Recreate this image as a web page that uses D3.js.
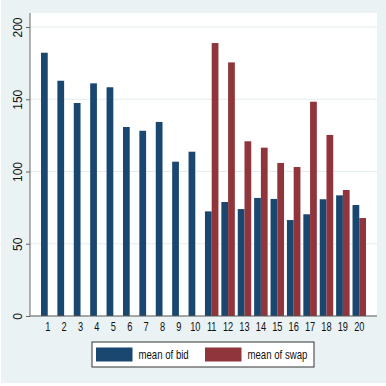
<!DOCTYPE html>
<html>
<head>
<meta charset="utf-8">
<script src="https://cdn.jsdelivr.net/npm/d3@7"></script>
<style>
  html, body { margin: 0; padding: 0; background: #ffffff; }
  svg { display: block; }
  text { font-family: "Liberation Sans", Arial, sans-serif; fill: #111; }
</style>
</head>
<body>
<svg id="chart" width="386" height="386"></svg>
<script>
// Group labels along the x axis
const categories = ["1","2","3","4","5","6","7","8","9","10",
                    "11","12","13","14","15","16","17","18","19","20"];
// Mean of bid per group
const bidValues = [182.2, 162.8, 147.4, 161.0, 158.3, 130.8, 128.2, 134.3, 106.8, 113.7,
                   72.4, 78.9, 74.0, 81.7, 81.0, 66.4, 70.4, 80.8, 83.5, 76.8];
// Mean of swap per group (no swap observations in groups 1-10)
const swapValues = [0, 0, 0, 0, 0, 0, 0, 0, 0, 0,
                    188.9, 175.5, 120.9, 116.5, 105.9, 103.1, 148.3, 125.3, 87.2, 67.8];
const seriesKeys = ["bid", "swap"];
const seriesLabels = ["mean of bid", "mean of swap"];
const yTicks = [0, 50, 100, 150, 200];

const colors = { bid: "#1a476f", swap: "#90353b" };
const bg = "#eaf2f3";
const condense = 0.74;

const svg = d3.select("#chart");

// graph region
svg.append("rect").attr("x", 1).attr("y", 0).attr("width", 385).attr("height", 383).attr("fill", bg);

const plot = { left: 30, right: 377, top: 13, bottom: 316 };

// plot region
svg.append("rect")
  .attr("x", plot.left).attr("y", plot.top)
  .attr("width", plot.right - plot.left).attr("height", plot.bottom - plot.top)
  .attr("fill", "#ffffff");

const x0 = d3.scaleBand().domain(categories).range([plot.left, plot.right])
  .paddingInner(0.177).paddingOuter(0.67);
const x1 = d3.scaleBand().domain(seriesKeys).range([0, x0.bandwidth()]);
const y = d3.scaleLinear().domain([0, 200]).range([plot.bottom, 27]);

// horizontal grid lines
svg.append("g").selectAll("line")
  .data(yTicks.filter(d => d > 0))
  .join("line")
  .attr("x1", plot.left).attr("x2", plot.right)
  .attr("y1", d => y(d)).attr("y2", d => y(d))
  .attr("stroke", "#e3ecee").attr("stroke-width", 1.2);

// bars
const rows = categories.map((c, i) => ({ cat: c, bid: bidValues[i], swap: swapValues[i] }));
const groups = svg.append("g").selectAll("g")
  .data(rows)
  .join("g")
  .attr("transform", d => `translate(${x0(d.cat)},0)`);

groups.selectAll("rect")
  .data(d => seriesKeys.map(k => ({ key: k, value: d[k] })).filter(e => e.value > 0))
  .join("rect")
  .attr("x", d => x1(d.key))
  .attr("width", x1.bandwidth())
  .attr("y", d => y(d.value))
  .attr("height", d => y(0) - y(d.value))
  .attr("fill", d => colors[d.key]);

// y axis
const yAxis = svg.append("g")
  .attr("transform", `translate(${plot.left},0)`)
  .call(d3.axisLeft(y).tickValues(yTicks).tickSize(4).tickSizeOuter(0));
yAxis.select(".domain").attr("d", `M0,${plot.top}V${plot.bottom}`).attr("stroke", "#666");
yAxis.selectAll(".tick line").attr("stroke", "#666");
yAxis.selectAll(".tick text")
  .attr("transform", "rotate(-90)")
  .attr("x", 0).attr("y", -8).attr("dy", 0)
  .attr("text-anchor", "middle")
  .style("font-size", "12px")
  .style("font-family", "'Liberation Sans', Arial, sans-serif")
  .attr("fill", "#111");

// x axis
const xAxis = svg.append("g")
  .attr("transform", `translate(0,${plot.bottom})`)
  .call(d3.axisBottom(x0).tickSize(0).tickSizeOuter(0));
xAxis.select(".domain").attr("d", `M${plot.left},0H${plot.right}`).attr("stroke", "#555").attr("stroke-width", 1.2);
xAxis.selectAll(".tick text")
  .attr("y", 14.7).attr("dy", 0)
  .attr("transform", `scale(${condense},1)`)
  .style("font-size", "12.5px")
  .style("font-family", "'Liberation Sans', Arial, sans-serif")
  .attr("fill", "#111");

// legend
const legend = svg.append("g");
legend.append("rect")
  .attr("x", 92).attr("y", 342).attr("width", 222).attr("height", 25)
  .attr("fill", "#ffffff").attr("stroke", "#333").attr("stroke-width", 1);
const keyX = [96, 205];
seriesKeys.forEach((k, i) => {
  legend.append("rect")
    .attr("x", keyX[i]).attr("y", 347.5).attr("width", 36.5).attr("height", 14)
    .attr("fill", colors[k]);
  legend.append("text")
    .attr("transform", `translate(${keyX[i] + 42.5},359) scale(${condense},1)`)
    .style("font-size", "13px")
    .text(seriesLabels[i]);
});
</script>
</body>
</html>
